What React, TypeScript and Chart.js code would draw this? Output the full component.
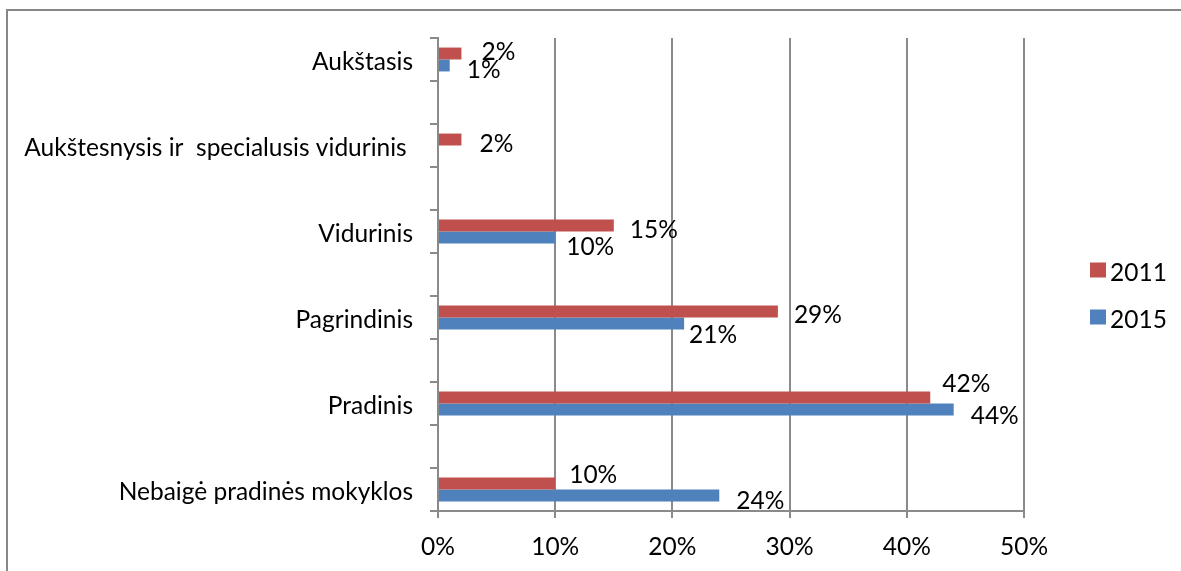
import React, { useEffect, useRef } from "react";
import { Chart, registerables } from "chart.js";
Chart.register(...registerables);

const categories = [
  "Aukštasis",
  "",
  "Aukštesnysis ir  specialusis vidurinis ",
  "",
  "Vidurinis",
  "",
  "Pagrindinis",
  "",
  "Pradinis",
  "",
  "Nebaigė pradinės mokyklos",
];
const seriesNames = ["2011", "2015"];
const values2011 = [2, null, 2, null, 15, null, 29, null, 42, null, 10];
const values2015 = [1, null, null, null, 10, null, 21, null, 44, null, 24];
const xMin = 0;
const xMax = 50;
const xStep = 10;

const colors = ["#C0504D", "#4F81BD"];
// label nudges [dx from bar end, dy from bar centre]
const nudges2011 = [[20, -4], null, [18, 2], null, [16, 1.5], null, [16, 1], null, [12, -16.5], null, [14, -11.5]];
const nudges2015 = [[17, 2], null, null, null, [11, 7], null, [5, 9], null, [17, 3.5], null, [17, 2.5]];

const FONT = "Lato, 'DejaVu Sans', sans-serif";
const FS = 24.5;
const TEXT_SHIFT = 3;

const labelPlugin = {
  id: "barLabels",
  afterDatasetsDraw(chart: any) {
    const ctx = chart.ctx;
    const nudges = [nudges2011, nudges2015];
    ctx.save();
    ctx.font = `${FS}px ${FONT}`;
    ctx.fillStyle = "#000";
    ctx.textAlign = "left";
    ctx.textBaseline = "middle";
    chart.data.datasets.forEach((ds: any, i: number) => {
      const meta = chart.getDatasetMeta(i);
      meta.data.forEach((el: any, j: number) => {
        const v = ds.data[j];
        if (v == null) return;
        const n = (nudges[i] && nudges[i][j]) || [12, 0];
        ctx.fillText(v + "%", el.x + n[0], el.y + n[1] + TEXT_SHIFT);
      });
    });
    ctx.restore();
  },
};

const legendPlugin = {
  id: "sideLegend",
  afterDraw(chart: any) {
    const ctx = chart.ctx;
    const a = chart.chartArea;
    const mid = (a.top + a.bottom) / 2 + 19;
    ctx.save();
    ctx.font = `${FS}px ${FONT}`;
    ctx.textAlign = "left";
    ctx.textBaseline = "middle";
    chart.data.datasets.forEach((ds: any, i: number) => {
      const cy = mid - 23.5 + i * 47;
      const x = a.right + 66;
      ctx.fillStyle = ds.backgroundColor;
      ctx.fillRect(x, cy - 7.5, 16, 15);
      ctx.fillStyle = "#000";
      ctx.fillText(ds.label, x + 20, cy + TEXT_SHIFT);
    });
    ctx.restore();
  },
};

export default function App() {
  const ref = useRef<HTMLCanvasElement>(null);
  useEffect(() => {
    if (!ref.current) return;
    const chart = new Chart(ref.current, {
      type: "bar",
      data: {
        labels: categories,
        datasets: [
          { label: seriesNames[0], data: values2011, backgroundColor: colors[0], barPercentage: 1, categoryPercentage: 0.556 },
          { label: seriesNames[1], data: values2015, backgroundColor: colors[1], barPercentage: 1, categoryPercentage: 0.556 },
        ],
      },
      options: {
        indexAxis: "y",
        responsive: false,
        animation: false,
        devicePixelRatio: 1,
        layout: { padding: { left: 0, top: 38, right: 157, bottom: 0 } },
        plugins: { legend: { display: false }, tooltip: { enabled: false } },
        scales: {
          x: {
            type: "linear",
            min: xMin,
            max: xMax,
            ticks: {
              stepSize: xStep,
              callback: (v: any) => v + "%",
              font: { family: FONT, size: FS },
              color: "#000",
              padding: 14,
            },
            grid: { color: "#8a8a8a", lineWidth: 2, tickLength: 7, drawTicks: true },
            border: { display: true, color: "#8a8a8a", width: 2 },
            afterFit: (s: any) => { s.height = 60; },
          },
          y: {
            type: "category",
            offset: true,
            ticks: {
              font: { family: FONT, size: FS },
              color: "#000",
              padding: 17,
              labelOffset: TEXT_SHIFT,
              autoSkip: false,
            },
            grid: { drawOnChartArea: false, drawTicks: true, tickLength: 8, color: "#8a8a8a", lineWidth: 2, offset: true },
            border: { display: true, color: "#8a8a8a", width: 2 },
            afterFit: (s: any) => { s.width = 438; },
          },
        },
      },
      plugins: [labelPlugin, legendPlugin],
    } as any);
    return () => chart.destroy();
  }, []);
  return (
    <div>
      <div style={{ position: "fixed", left: 6, top: 9, width: 1300, height: 700, border: "2px solid #878787", boxSizing: "border-box" }} />
      <canvas ref={ref} width={1181} height={571} style={{ position: "fixed", left: 0, top: 0, width: 1181, height: 571 }} />
    </div>
  );
}
